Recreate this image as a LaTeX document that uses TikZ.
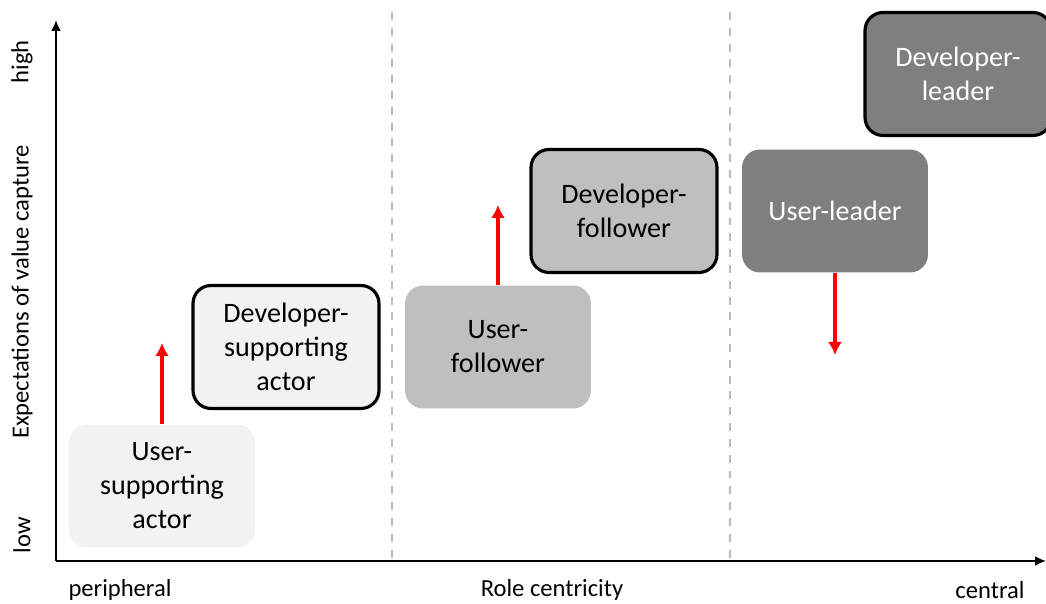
\documentclass[tikz,border=0pt]{standalone}
\usepackage{fontspec}
\setmainfont{Carlito}
\usepackage{tikz}
\usetikzlibrary{arrows.meta,positioning}
\definecolor{lightbox}{HTML}{F2F2F2}
\definecolor{midbox}{HTML}{BFBFBF}
\definecolor{darkbox}{HTML}{7F7F7F}
\definecolor{sepline}{HTML}{BBBBBB}
\definecolor{shiftred}{HTML}{FF0000}

\begin{document}
\begin{tikzpicture}[
  x=0.02cm, y=-0.02cm,
  font=\fontsize{16}{19.4}\selectfont,
  role/.style={rectangle, minimum width=3.72cm, minimum height=2.46cm,
               align=center, rounded corners=0.36cm, inner sep=2pt},
  dev/.style={role, draw=black, line width=1.8pt},
  axis/.style={-{Latex[length=2.2mm,width=2mm]}, line width=1.1pt},
  shiftarr/.style={-{Latex[length=2.6mm,width=2.8mm]}, line width=2.2pt, shiftred},
  sep/.style={sepline, line width=0.8pt, dash pattern=on 4.5pt off 4.5pt},
  axlabel/.style={font=\fontsize{14}{16}\selectfont}
]
  \useasboundingbox (0,0) rectangle (1046,604);
  % axes
  \coordinate (origin) at (56,561);
  \coordinate (ytop) at (56,20);
  \coordinate (xend) at (1046,561);
  \draw[sep] (392,12) -- (392,561);
  \draw[sep] (730,12) -- (730,561);
  \draw[axis] (origin) -- (ytop);
  \draw[axis] (origin) -- (xend);
  \node[axlabel, rotate=90] (high) at (22,62) {high};
  \node[axlabel, rotate=90] (low)  at (22,535) {low};
  \node[axlabel, rotate=90] (yax)  at (22,292) {Expectations of value capture};
  \node[axlabel] (periph)  at (120,590) {peripheral};
  \node[axlabel] (xax)     at (552,590) {Role centricity};
  \node[axlabel] (central) at (990,590) {central};
  % roles
  \node[role, fill=lightbox] (usa) at (162,486) {User-\\ supporting\\ actor};
  \node[dev, fill=lightbox]  (dsa) at (286,347) {Developer-\\ supporting\\ actor};
  \node[role, fill=midbox]   (uf)  at (498,347) {User-\\ follower};
  \node[dev, fill=midbox]    (df)  at (624,211) {Developer-\\ follower};
  \node[role, fill=darkbox, text=white] (ul) at (835,211) {User-leader};
  \node[dev, fill=darkbox, text=white]  (dl) at (958,74) {Developer-\\ leader};
  % shifts
  \coordinate (usaup) at (162,343);
  \coordinate (ufup)  at (498,205);
  \coordinate (uldn)  at (835,355);
  \draw[shiftarr] (usa.north) -- (usaup);
  \draw[shiftarr] (uf.north) -- (ufup);
  \draw[shiftarr] (ul.south) -- (uldn);
\end{tikzpicture}
\end{document}
